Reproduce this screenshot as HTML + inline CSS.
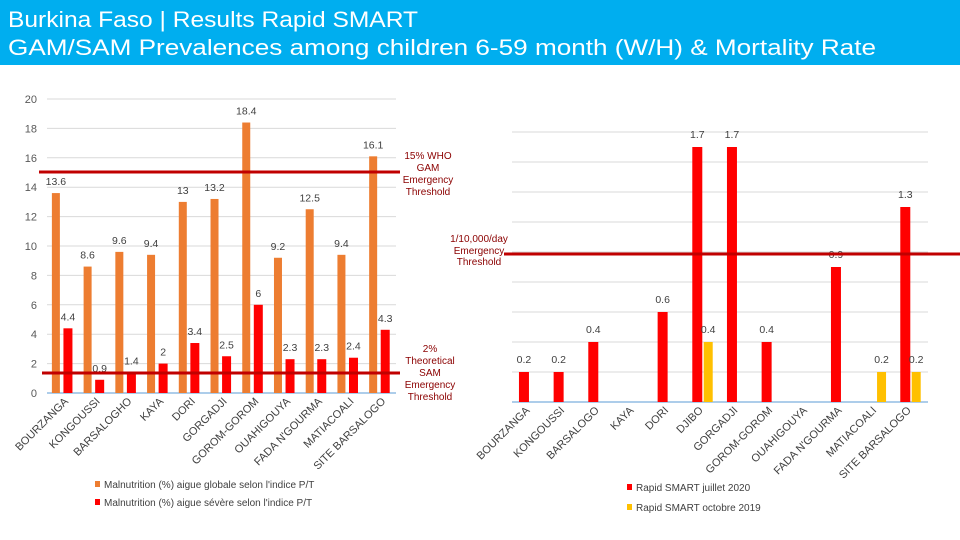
<!DOCTYPE html>
<html><head><meta charset="utf-8"><style>
body{margin:0;width:960px;height:540px;overflow:hidden;background:#fff;font-family:"Liberation Sans",sans-serif}
svg{display:block}
</style></head><body>
<svg id="c" width="960" height="540" viewBox="0 0 960 540">
<rect x="0" y="0" width="960" height="65" fill="#00AEEF"/>
<text x="8" y="27" fill="#fff" font-size="22" textLength="410" lengthAdjust="spacingAndGlyphs">Burkina Faso | Results Rapid SMART</text>
<text x="8" y="55" fill="#fff" font-size="22" textLength="868" lengthAdjust="spacingAndGlyphs">GAM/SAM Prevalences among children 6-59 month (W/H) &amp; Mortality Rate</text>
<g id="L"></g><g id="R"></g>
</svg>
<script>
const leftCats=["BOURZANGA","KONGOUSSI","BARSALOGHO","KAYA","DORI","GORGADJI","GOROM-GOROM","OUAHIGOUYA","FADA N'GOURMA","MATIACOALI","SITE BARSALOGO"];
const gamValues=[13.6,8.6,9.6,9.4,13,13.2,18.4,9.2,12.5,9.4,16.1];
const samValues=[4.4,0.9,1.4,2,3.4,2.5,6,2.3,2.3,2.4,4.3];
const leftTicks=[0,2,4,6,8,10,12,14,16,18,20];
const rightCats=["BOURZANGA","KONGOUSSI","BARSALOGO","KAYA","DORI","DJIBO","GORGADJI","GOROM-GOROM","OUAHIGOUYA","FADA N'GOURMA","MATIACOALI","SITE BARSALOGO"];
const july2020=[0.2,0.2,0.4,null,0.6,1.7,1.7,0.4,null,0.9,null,1.3];
const oct2019=[null,null,null,null,null,0.4,null,null,null,null,0.2,0.2];
const rightGrid=[0.2,0.4,0.6,0.8,1,1.2,1.4,1.6,1.8];

const NS="http://www.w3.org/2000/svg";
function mk(p,tag,at,txt){const e=document.createElementNS(NS,tag);for(const k in at)e.setAttribute(k,at[k]);if(txt!=null)e.textContent=txt;p.appendChild(e);return e;}
const L=document.getElementById('L'),R=document.getElementById('R');

// Left chart
const lx0=47,lx1=396,ly0=393,ly1=99;
const ly=v=>ly0-(v/20)*(ly0-ly1);
const lbw=(lx1-lx0)/leftCats.length;
leftTicks.forEach(t=>{
 let g=mk(L,'line',{x1:lx0,x2:lx1,y1:ly(t),y2:ly(t),stroke:t?'#d9d9d9':'#5b9bd5','stroke-width':1});
 
 
 let tx=mk(L,'text',{x:37,y:ly(t)+4,'text-anchor':'end','font-size':11,fill:'#595959'},t);
 
 
});
leftCats.forEach((c,i)=>{
 const b=lx0+i*lbw;
 const ox=b+lbw*0.28,rx=b+lbw*0.66;
 let r1=mk(L,'rect',{x:ox-4,y:ly(gamValues[i]),width:8,height:ly0-ly(gamValues[i]),fill:'#ED7D31'});
 
 
 let t1=mk(L,'text',{x:ox,y:ly(gamValues[i])-8,'text-anchor':'middle','font-size':10.5,fill:'#404040'},gamValues[i]);
 
 
 let r2=mk(L,'rect',{x:rx-4.5,y:ly(samValues[i]),width:9,height:ly0-ly(samValues[i]),fill:'#FF0000'});
 
 
 let t2=mk(L,'text',{x:rx,y:ly(samValues[i])-8,'text-anchor':'middle','font-size':10.5,fill:'#404040'},samValues[i]);
 
 
 let xl=mk(L,'text',{x:0,y:0,'text-anchor':'end','font-size':11,fill:'#404040',transform:`translate(${b+lbw*0.5+6},${ly0+9}) rotate(-45)`},c);
 
 
});

// Right chart
const rx0=512,rx1=928,ry0=402;
const ry=v=>ry0-v*150;
const rbw=(rx1-rx0)/rightCats.length;
rightGrid.forEach(t=>{
 let g=mk(R,'line',{x1:rx0,x2:rx1,y1:ry(t),y2:ry(t),stroke:'#d9d9d9','stroke-width':1});
 
 
});
mk(R,'line',{x1:rx0,x2:rx1,y1:ry0,y2:ry0,stroke:'#5b9bd5','stroke-width':1,});
rightCats.forEach((c,i)=>{
 const b=rx0+i*rbw;
 const cx=b+rbw*0.345,yx=b+rbw*0.66;
 if(july2020[i]!=null){
  let r1=mk(R,'rect',{x:cx-5,y:ry(july2020[i]),width:10,height:ry0-ry(july2020[i]),fill:'#FF0000'});
  
  
  let t=mk(R,'text',{x:cx,y:ry(july2020[i])-9,'text-anchor':'middle','font-size':10.5,fill:'#404040'},july2020[i]);
  
  
 }
 if(oct2019[i]!=null){
  let r2=mk(R,'rect',{x:yx-4.5,y:ry(oct2019[i]),width:9,height:ry0-ry(oct2019[i]),fill:'#FFC000'});
  
  
  let t=mk(R,'text',{x:yx,y:ry(oct2019[i])-9,'text-anchor':'middle','font-size':10.5,fill:'#404040'},oct2019[i]);
  
  
 }
 let xl=mk(R,'text',{x:0,y:0,'text-anchor':'end','font-size':11,fill:'#404040',transform:`translate(${b+rbw*0.5+1},${ry0+9}) rotate(-45)`},c);
 
 
});
</script>
<svg width="960" height="540" style="position:absolute;left:0;top:0">
<line x1="39" x2="400" y1="172" y2="172" stroke="#C00000" stroke-width="3"/>
<line x1="42" x2="400" y1="373" y2="373" stroke="#C00000" stroke-width="3"/>
<line x1="504" x2="960" y1="254" y2="254" stroke="#C00000" stroke-width="3"/>
<g font-size="10" fill="#8B0000" text-anchor="middle">
<text x="428" y="159">15% WHO</text><text x="428" y="171">GAM</text><text x="428" y="183">Emergency</text><text x="428" y="195">Threshold</text></g>
<g font-size="10" fill="#8B0000" text-anchor="middle">
<text x="479" y="242">1/10,000/day</text><text x="479" y="254">Emergency</text><text x="479" y="265">Threshold</text></g>
<g font-size="10" fill="#8B0000" text-anchor="middle">
<text x="430" y="352">2%</text><text x="430" y="364">Theoretical</text><text x="430" y="376">SAM</text><text x="430" y="388">Emergency</text><text x="430" y="400">Threshold</text></g>
<rect x="95" y="481" width="5" height="6" fill="#ED7D31"/>
<text x="104" y="488" font-size="10" fill="#404040">Malnutrition (%) aigue globale selon l'indice P/T</text>
<rect x="95" y="499" width="5" height="6" fill="#FF0000"/>
<text x="104" y="506" font-size="10" fill="#404040">Malnutrition (%) aigue sévère selon l'indice P/T</text>
<rect x="627" y="484" width="5" height="6" fill="#FF0000"/>
<text x="636" y="491" font-size="10" fill="#404040">Rapid SMART juillet 2020</text>
<rect x="627" y="504" width="5" height="6" fill="#FFC000"/>
<text x="636" y="511" font-size="10" fill="#404040">Rapid SMART octobre 2019</text>
</svg>
</body></html>
